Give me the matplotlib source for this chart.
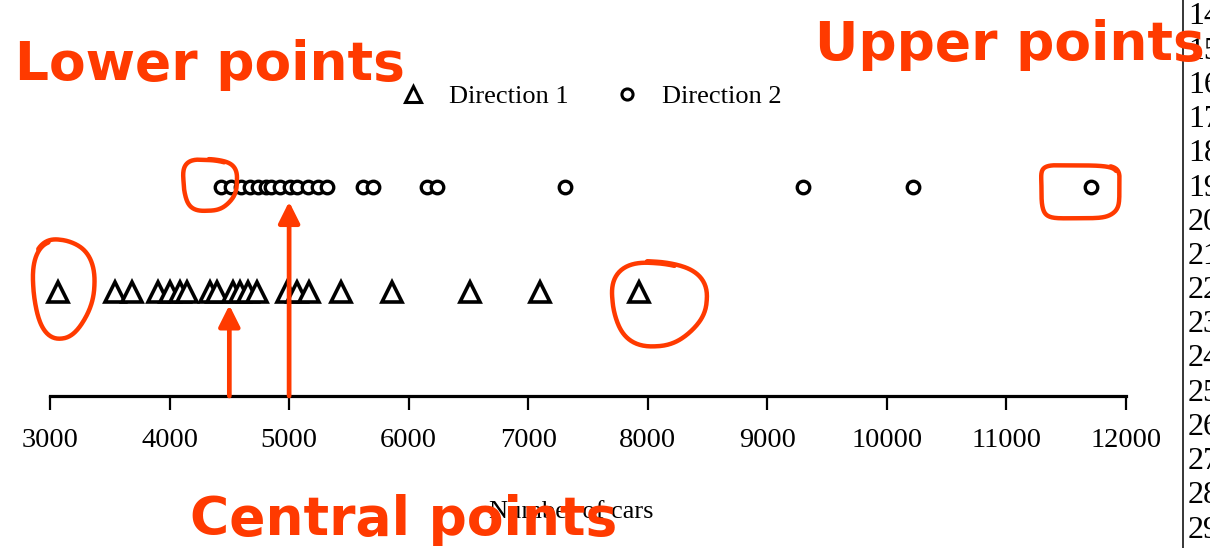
import numpy as np
import matplotlib
matplotlib.use("Agg")
import matplotlib.pyplot as plt
from matplotlib.lines import Line2D
from matplotlib.transforms import IdentityTransform

# numero de coches por observacion, cada direccion
dir1_cars = [3070, 3540, 3690, 3900, 4000, 4090, 4150, 4340, 4400, 4530, 4590,
             4660, 4730, 4980, 5070, 5170, 5430, 5860, 6510, 7100, 7930]
dir2_cars = [4430, 4510, 4600, 4670, 4740, 4810, 4850, 4920, 5010, 5070, 5160,
             5240, 5320, 5620, 5700, 6150, 6240, 7310, 9300, 10220, 11710]
series_names = ["Direction 1", "Direction 2"]
xticks = [3000, 4000, 5000, 6000, 7000, 8000, 9000, 10000, 11000, 12000]
row_labels = ["14", "15", "16", "17", "18", "19", "20", "21",
              "22", "23", "24", "25", "26", "27", "28", "29"]
arrow_cars = [4500, 5000]

naranja = "#ff3a00"
serif = "Liberation Serif"

fig = plt.figure(figsize=(12.1, 5.48), dpi=100)
ax = fig.add_axes([50 / 1210, 152 / 548, 1076 / 1210, 313.5 / 548])

ax.plot(dir1_cars, [1] * len(dir1_cars), linestyle="none", marker="^",
        markersize=15, markerfacecolor="white", markeredgecolor="black",
        markeredgewidth=2.6, label=series_names[0], zorder=3, clip_on=False)
ax.plot(dir2_cars, [2] * len(dir2_cars), linestyle="none", marker="o",
        markersize=9, markerfacecolor="white", markeredgecolor="black",
        markeredgewidth=2.4, label=series_names[1], zorder=3, clip_on=False)

ax.set_xlim(3000, 12000)
ax.set_ylim(0, 3)
ax.set_xticks(xticks)
ax.set_xticklabels([str(t) for t in xticks], fontfamily=serif, fontsize=20.5)
ax.set_yticks([])
for lado in ["left", "right", "top"]:
    ax.spines[lado].set_visible(False)
ax.spines["bottom"].set_linewidth(2.3)
ax.tick_params(axis="x", direction="out", length=10, width=1.6, pad=13)

leg = ax.legend(loc="center", bbox_to_anchor=(591 / 1210, 1 - 96 / 548),
                bbox_transform=fig.transFigure, ncol=2, frameon=False,
                handlelength=1.0, handletextpad=0.85, columnspacing=1.7,
                prop={"family": serif, "size": 19})
leg.legend_handles[0].set_markersize(11)
leg.legend_handles[0].set_markeredgewidth(2.2)
leg.legend_handles[1].set_markersize(8)
leg.legend_handles[1].set_markeredgewidth(2.2)

fig.text(571 / 1210, 1 - 512 / 548, "Number of cars", fontfamily=serif,
         fontsize=19, ha="center", va="center")

# columna de la tabla que queda a la derecha (cortada por el borde)
fig.add_artist(Line2D([1183 / 1210, 1183 / 1210], [0, 1], color="black", lw=1.1))
for i, lab in enumerate(row_labels):
    fig.text(1188 / 1210, 1 - (17 + 34.2 * i) / 548, lab, fontfamily=serif,
             fontsize=23, ha="left", va="center")

# flechas hacia los puntos centrales
for xc, tip in zip(arrow_cars, [0.87, 1.86]):
    ax.annotate("", xy=(xc, tip), xytext=(xc, 0),
                arrowprops=dict(arrowstyle="-|>", color=naranja, lw=3.4,
                                mutation_scale=32, shrinkA=0, shrinkB=0),
                zorder=4)

fig.canvas.draw()


def lazo(xv, yv, dx, dy, rx, ry, n=2.0, start=100, extra=25, wob=0.06):
    # contorno a mano alzada alrededor de un punto (pixeles)
    cx, cy = ax.transData.transform((xv, yv))
    cx += dx
    cy -= dy
    t = np.radians(np.linspace(start, start + 360 + extra, 200))
    c, s = np.cos(t), np.sin(t)
    k = 1 + wob * np.sin(3 * t + 0.7) + 0.04 * (t - t[0]) / (t[-1] - t[0])
    px = cx + k * rx * np.sign(c) * np.abs(c) ** (2 / n)
    py = cy + k * ry * np.sign(s) * np.abs(s) ** (2 / n)
    fig.add_artist(Line2D(px, py, color=naranja, lw=3.2, solid_capstyle="round",
                          solid_joinstyle="round", transform=IdentityTransform()))


lazo(dir1_cars[0], 1, 4, -4, 30, 48, n=2.2, start=115, extra=20)
lazo(dir1_cars[-1], 1, 18, 11, 46, 41, n=2.3, start=70, extra=30)
lazo(dir2_cars[0], 2, -12, -3, 26, 25, n=2.8, start=60, extra=30)
lazo(dir2_cars[-1], 2, -12, 4, 38, 26, n=5.0, start=30, extra=25, wob=0.03)

comic = {"family": "DejaVu Sans", "weight": "bold", "color": naranja, "fontsize": 38.5}
fig.text(15 / 1210, 1 - 80 / 548, "Lower points", ha="left", va="baseline", **comic)
fig.text(815 / 1210, 1 - 60 / 548, "Upper points", ha="left", va="baseline", **comic)
fig.text(190 / 1210, 1 - 535 / 548, "Central points", ha="left", va="baseline",
         **comic)

fig.savefig("out.png", dpi=100)
